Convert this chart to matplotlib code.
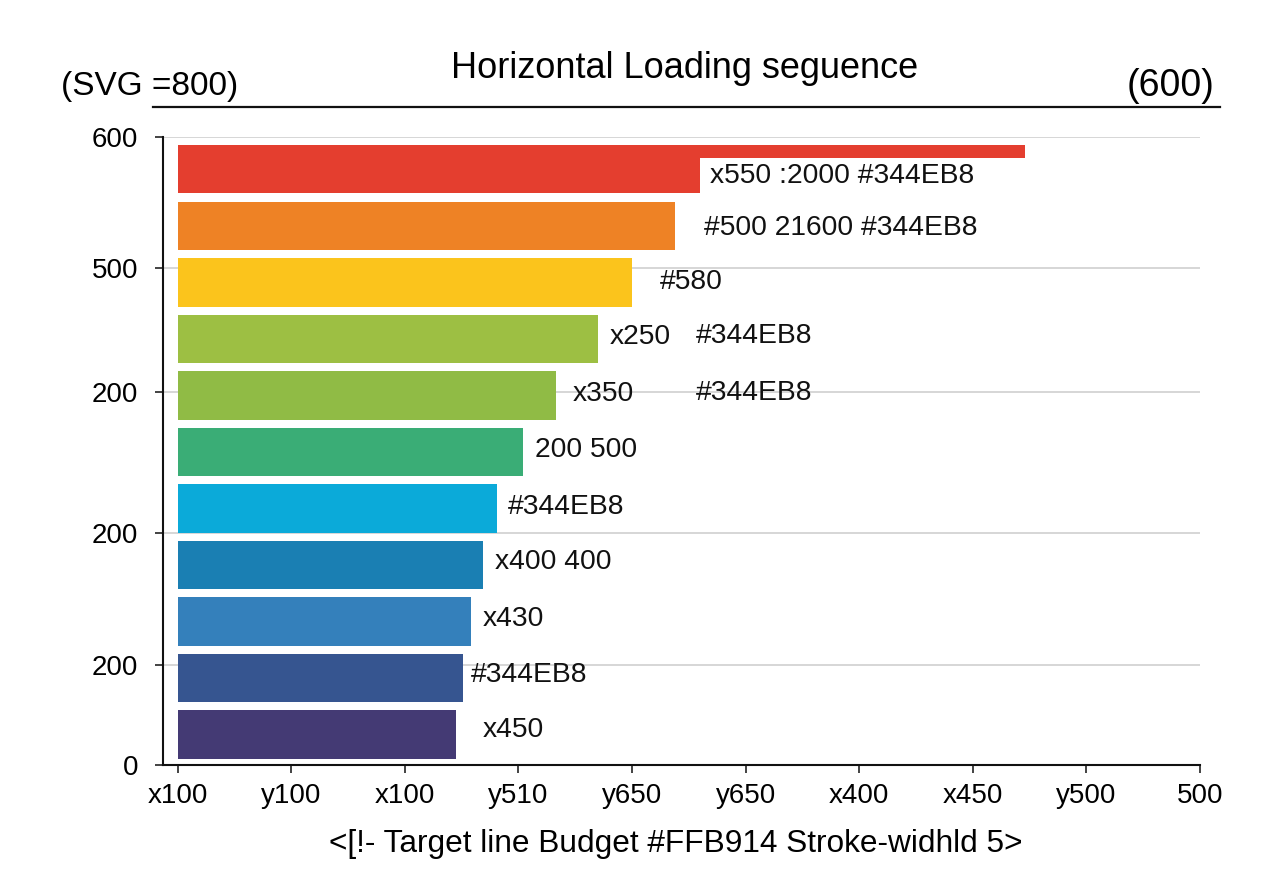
import numpy as np
import matplotlib
matplotlib.use("Agg")
import matplotlib.pyplot as plt

plt.rcParams['font.family'] = ['Liberation Sans', 'DejaVu Sans']

# --- data ---
bar_values = [4.60, 4.375, 4.00, 3.70, 3.33, 3.04, 2.81, 2.69, 2.58, 2.51, 2.45]
red_peak = 7.46  # thin strip on top of the first bar
bar_colors = ['#E43E2F', '#EE8225', '#FBC41C', '#9DBF43', '#90BB45', '#3AAD76',
              '#0BAAD9', '#1A7FB3', '#3480BB', '#365590', '#443A74']
bar_labels = ['x550 :2000 #344EB8', '#500 21600 #344EB8', '#580', 'x250', 'x350',
              '200 500', '#344EB8', 'x400 400', 'x430', '#344EB8', 'x450']
extra_labels = {3: '#344EB8', 4: '#344EB8'}

x_ticklabels = ['x100', 'y100', 'x100', 'y510', 'y650', 'y650', 'x400', 'x450', 'y500', '500']
y_ticks = [-0.575, 1.74, 3.94, 6.44, 8.77, 10.54]
y_ticklabels = ['600', '500', '200', '200', '200', '0']

# label gaps in pixels (style only)
label_gap_px = [10, 29, 28, 12, 17, 12, 11, 12, 12, 8, 27]
label_dy = [0.12, 0.03, 0.0, -0.03, -0.03, -0.03, -0.03, -0.05, -0.05, -0.05, -0.08]

# --- figure ---
fig = plt.figure(figsize=(12.8, 8.96), dpi=100)
ax = fig.add_axes([0.1273, 0.1462, 0.9375 - 0.1273, 0.8471 - 0.1462])

ypos = np.arange(len(bar_values))
bar_h = 0.85
ax.barh(ypos, bar_values, height=bar_h, color=bar_colors, left=0, zorder=2)

# thin overshoot strip on the red bar
strip_top = -bar_h / 2
strip_bot = -0.2
ax.barh((strip_top + strip_bot) / 2, red_peak, height=strip_bot - strip_top,
        color=bar_colors[0], zorder=2)

for i, (v, lab) in enumerate(zip(bar_values, bar_labels)):
    ax.annotate(lab, (v, i + label_dy[i]), xytext=(label_gap_px[i], 0),
                textcoords='offset pixels', ha='left', va='center',
                fontsize=20.3, color='#111111', zorder=4)

for i, lab in extra_labels.items():
    ax.text(4.56, i - 0.05, lab, ha='left', va='center', fontsize=20.3,
            color='#111111', zorder=4)

ax.set_xlim(-0.13, 9)
ax.set_ylim(10.54, -0.575)
ax.set_xticks(np.arange(len(x_ticklabels)))
ax.set_xticklabels(x_ticklabels, fontsize=20)
ax.set_yticks(y_ticks)
ax.set_yticklabels(y_ticklabels, fontsize=20)
ax.tick_params(axis='x', length=6, width=1.2, color='#222222', pad=7)
ax.tick_params(axis='y', length=6, width=1.2, color='#222222', pad=12)

ax.set_axisbelow(True)
ax.grid(axis='y', color='#cfcfcf', linewidth=1.2)
for side in ['top', 'right']:
    ax.spines[side].set_visible(False)
for side in ['left', 'bottom']:
    ax.spines[side].set_linewidth(1.5)
    ax.spines[side].set_color('#111111')

# header
fig.text(0.535, 0.923, 'Horizontal Loading seguence', ha='center', va='center', fontsize=26)
fig.text(0.048, 0.904, '(SVG =800)', ha='left', va='center', fontsize=24)
fig.text(0.949, 0.904, '(600)', ha='right', va='center', fontsize=27)
fig.add_artist(plt.Line2D([0.1195, 0.953], [0.8806, 0.8806], color='#111111',
                          linewidth=1.6, transform=fig.transFigure))

fig.text(0.528, 0.058, '<[!- Target line Budget #FFB914 Stroke-widhld 5>',
         ha='center', va='center', fontsize=22.8)

fig.savefig('out.png', dpi=100, facecolor='white')
